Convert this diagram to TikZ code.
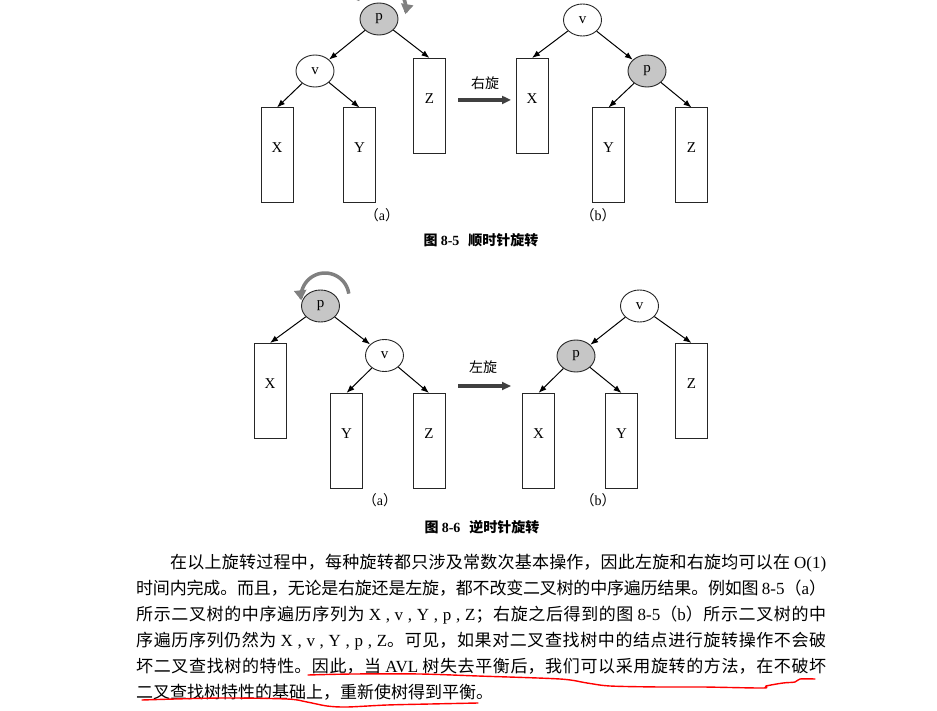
\documentclass[tikz,border=0pt]{standalone}
\usepackage{fontspec}
\setmainfont{Liberation Serif}
\newfontfamily\cjk{Noto Sans CJK SC}
\usetikzlibrary{arrows.meta,shapes.geometric}
\XeTeXlinebreaklocale "zh"
\XeTeXlinebreakskip=0pt plus 3pt minus 0.6pt
\newcommand{\lat}[1]{{\rmfamily #1}}

\tikzset{
  tnode/.style={ellipse, draw=black!85, line width=0.9pt, minimum width=38pt, minimum height=32pt, inner sep=0pt, font=\fontsize{15}{15}\selectfont},
  pnode/.style={tnode, fill=gray!45},
  subtree/.style={rectangle, draw=black!85, line width=1pt, minimum width=32pt, minimum height=95pt, inner sep=0pt, text height=10pt, text depth=15pt, font=\fontsize{15}{15}\selectfont},
  link/.style={-{Latex[length=8pt,width=6pt]}, line width=1pt},
  rotarrow/.style={line width=3.2pt, black!75, -{Triangle[length=9pt,width=8pt]}},
  spinarc/.style={line width=3.5pt, black!50, -{Triangle[length=10pt,width=12pt]}},
  sublab/.style={font=\fontsize{14}{14}\selectfont\cjk},
  figcap/.style={font=\fontsize{14}{14}\selectfont\bfseries\cjk},
  para/.style={text width=690pt, align=justify, inner sep=0pt, font=\fontsize{17}{26}\selectfont\cjk},
  pen/.style={red, line width=1.4pt, line cap=round, line join=round},
}

\begin{document}
\begin{tikzpicture}[x=1pt, y=-1pt]
    \useasboundingbox (0,0) rectangle (937,711);
    \clip (0,0) rectangle (937,711);

    % Figure 8-5 (a)
    \node[pnode] (pa5) at (379,19) {p};
    \node[tnode] (va5) at (315,71) {v};
    \node[subtree] (Xa5) at (277,155.5) {X};
    \node[subtree] (Ya5) at (359.5,155.5) {Y};
    \node[subtree] (Za5) at (429.5,106) {Z};
    \draw[link] (pa5) -- (va5);
    \draw[link] (pa5) -- (Za5.north);
    \draw[link] (va5) -- (Xa5.north);
    \draw[link] (va5) -- (Ya5.north);
    \draw[spinarc] plot[domain=0:1, samples=30, smooth] ({381+25*cos(-160+172*\x)}, {9+25*sin(-160+172*\x)});

    % Figure 8-5 arrow
    \coordinate (r5a) at (458,100);
    \coordinate (r5b) at (511,100);
    \draw[rotarrow] (r5a) -- (r5b);
    \node[sublab] (r5lab) at (485,83) {右旋};

    % Figure 8-5 (b)
    \node[tnode] (vb5) at (582.5,20) {v};
    \node[subtree] (Xb5) at (532,106) {X};
    \node[pnode] (pb5) at (647,71) {p};
    \node[subtree] (Yb5) at (608.5,155.5) {Y};
    \node[subtree] (Zb5) at (691.5,155.5) {Z};
    \draw[link] (vb5) -- (Xb5.north);
    \draw[link] (vb5) -- (pb5);
    \draw[link] (pb5) -- (Yb5.north);
    \draw[link] (pb5) -- (Zb5.north);

    \node[sublab] (la5) at (382,215) {（\lat{a}）};
    \node[sublab] (lb5) at (598,215) {（\lat{b}）};
    \node[figcap] (cap5) at (481,240) {图 \lat{8-5}\hspace{9pt}顺时针旋转};

    % Figure 8-6 (a)
    \node[pnode] (pa6) at (320.5,306) {p};
    \node[subtree] (Xa6) at (270,391) {X};
    \node[tnode] (va6) at (384.5,355.5) {v};
    \node[subtree] (Ya6) at (346.5,441) {Y};
    \node[subtree] (Za6) at (429,441) {Z};
    \draw[link] (pa6) -- (Xa6.north);
    \draw[link] (pa6) -- (va6);
    \draw[link] (va6) -- (Ya6.north);
    \draw[link] (va6) -- (Za6.north);
    \draw[spinarc] plot[domain=0:1, samples=30, smooth] ({325+24*cos(-8-180*\x)}, {297+24*sin(-8-180*\x)});

    % Figure 8-6 arrow
    \coordinate (r6a) at (458,386);
    \coordinate (r6b) at (511,386);
    \draw[rotarrow] (r6a) -- (r6b);
    \node[sublab] (r6lab) at (483,367) {左旋};

    % Figure 8-6 (b)
    \node[tnode] (vb6) at (639.5,306) {v};
    \node[pnode] (pb6) at (576,356) {p};
    \node[subtree] (Zb6) at (691.5,391) {Z};
    \node[subtree] (Xb6) at (538.5,441) {X};
    \node[subtree] (Yb6) at (621.5,441) {Y};
    \draw[link] (vb6) -- (pb6);
    \draw[link] (vb6) -- (Zb6.north);
    \draw[link] (pb6) -- (Xb6.north);
    \draw[link] (pb6) -- (Yb6.north);

    \node[sublab] (la6) at (380,500) {（\lat{a}）};
    \node[sublab] (lb6) at (598,500) {（\lat{b}）};
    \node[figcap] (cap6) at (482,527) {图 \lat{8-6}\hspace{9pt}逆时针旋转};

    % Paragraph
    \node[para, anchor=base west] (txt) at (136,568.5) {\hspace*{34pt}在以上旋转过程中，每种旋转都只涉及常数次基本操作，因此左旋和右旋均可以在 \lat{O(1)}\linebreak
时间内完成。而且，无论是右旋还是左旋，都不改变二叉树的中序遍历结果。例如图 \lat{8-5}（\lat{a}）\linebreak
所示二叉树的中序遍历序列为 \lat{X , v , Y , p , Z}；右旋之后得到的图 \lat{8-5}（\lat{b}）所示二叉树的中\linebreak
序遍历序列仍然为 \lat{X , v , Y , p , Z}。可见，如果对二叉查找树中的结点进行旋转操作不会破\linebreak
坏二叉查找树的特性。因此，当 \lat{AVL} 树失去平衡后，我们可以采用旋转的方法，在不破坏\linebreak
二叉查找树特性的基础上，重新使树得到平衡。};

    % Red underlines
    \draw[pen] plot[smooth] coordinates {(308,675) (353,674) (420,674) (478,676) (560,679) (587,683) (610,686) (660,687) (703,687) (763,688) (766,686) (783,683) (795,682) (800,679) (815,679)};
    \draw[pen] plot[smooth] coordinates {(142,700) (220,698) (287,699) (307,702) (327,706) (347,707) (387,705) (430,704) (478,703)};
\end{tikzpicture}
\end{document}
